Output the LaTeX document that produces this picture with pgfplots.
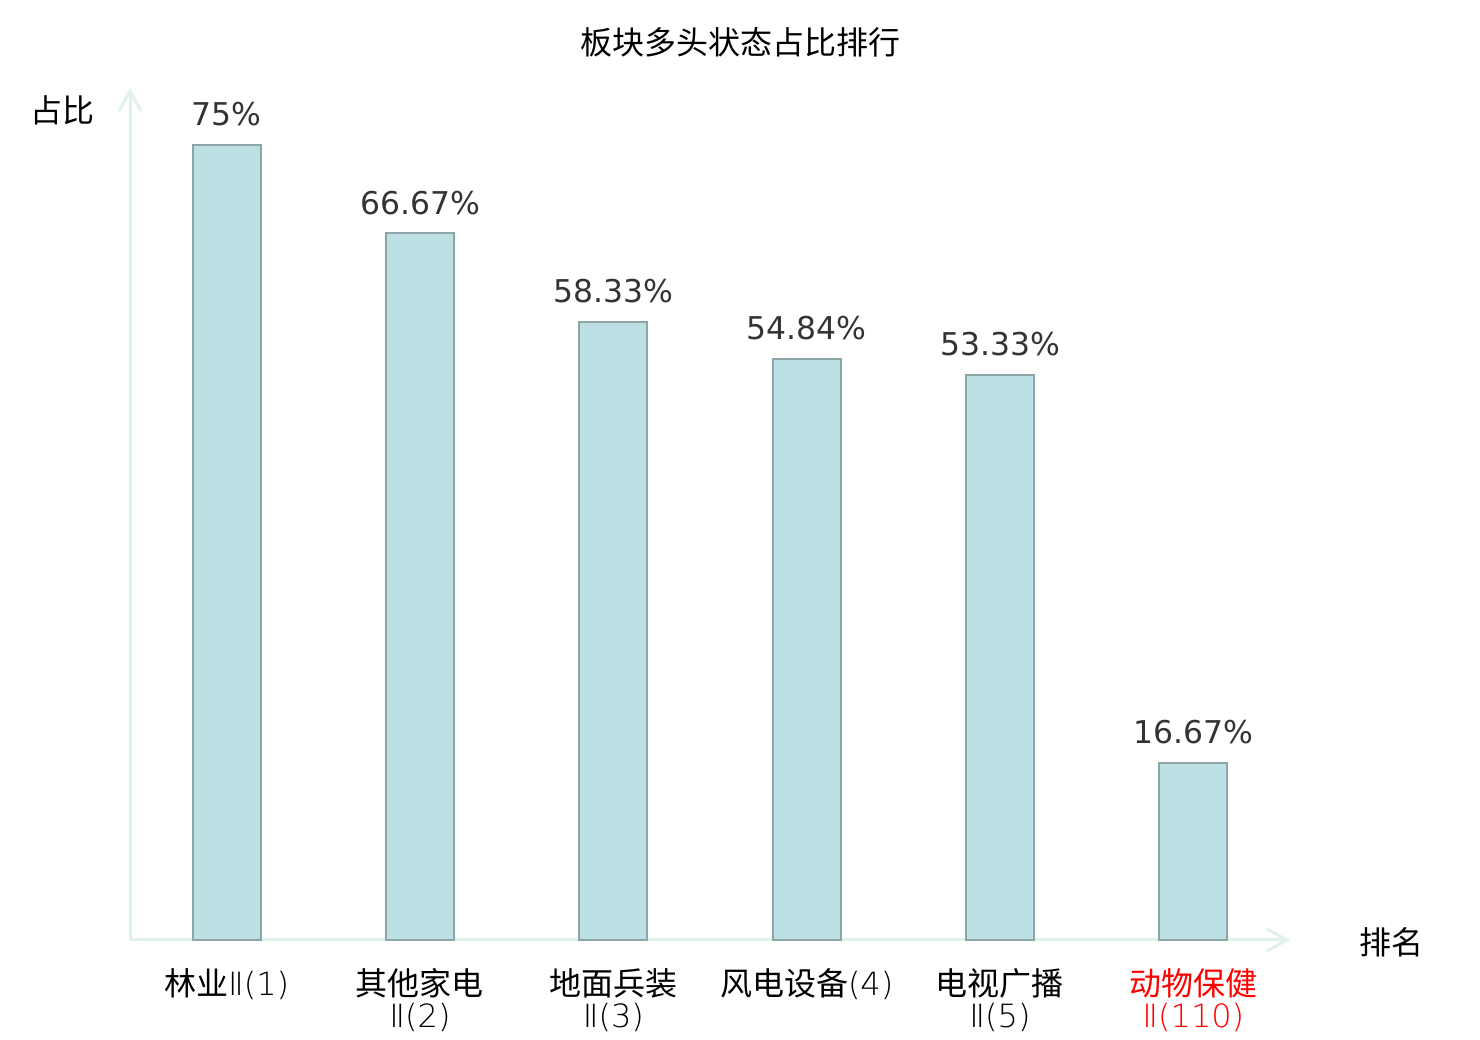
\documentclass[border=0pt]{standalone}
\usepackage{fontspec}
\setmainfont{Noto Sans CJK SC}
\newfontfamily\dejavu{DejaVu Sans}
\newfontfamily\thin{DejaVu Sans ExtraLight}
\usepackage{pgfplots}
\usepackage{pgfplotstable}
\pgfplotsset{compat=1.18}
\usetikzlibrary{arrows.meta}
\definecolor{barfill}{HTML}{BCE0E3}
\definecolor{baredge}{HTML}{8CA6A7}
\definecolor{axline}{HTML}{DFF2EF}
\definecolor{valtext}{HTML}{333333}
\pgfplotstableread{
x y
0 75
1 66.67
2 58.33
3 54.84
4 53.33
5 16.67
}\datatable
\begin{document}
\begin{tikzpicture}
\path[use as bounding box] (0,0) rectangle (740pt,520pt);
\begin{axis}[
  at={(65pt,50pt)}, anchor=south west,
  scale only axis, width=580pt, height=426pt,
  xmin=-0.5, xmax=5.5, ymin=0, ymax=80.4,
  axis x line=bottom, axis y line=left,
  axis line style={draw=axline, line width=1.5pt, -{Straight Barb[length=10pt,width=11pt,line width=1.5pt]}},
  ytick=\empty,
  xtick=data,
  major tick length=0pt,
  xticklabels={{林业{\thin Ⅱ(1)}},{其他家电\\{\thin Ⅱ(2)}},{地面兵装\\{\thin Ⅱ(3)}},{风电设备{\thin (4)}},{电视广播\\{\thin Ⅱ(5)}},{\textcolor{red}{动物保健}\\\textcolor{red}{\thin Ⅱ(110)}}},
  xticklabel style={align=center, font=\fontsize{16pt}{16pt}\selectfont, text=black, inner sep=0pt, yshift=-14pt},
  nodes near coords={\pgfmathprintnumber[assume math mode=true,fixed,precision=2]{\pgfplotspointmeta}\%},
  every node near coord/.style={anchor=south, inner sep=0pt, yshift=9pt, font=\dejavu\fontsize{15.7pt}{16pt}\selectfont, text=valtext},
  clip=false,
]
\addplot[ybar, bar width=34pt, fill=barfill, draw=baredge, line width=1pt] table[x=x,y=y] {\datatable};
\end{axis}
\node[font=\fontsize{16pt}{16pt}\selectfont] at (370pt,499pt) {板块多头状态占比排行};
\node[font=\fontsize{16pt}{16pt}\selectfont] at (31.5pt,465pt) {占比};
\node[font=\fontsize{16pt}{16pt}\selectfont] at (695.5pt,49pt) {排名};
\end{tikzpicture}
\end{document}
